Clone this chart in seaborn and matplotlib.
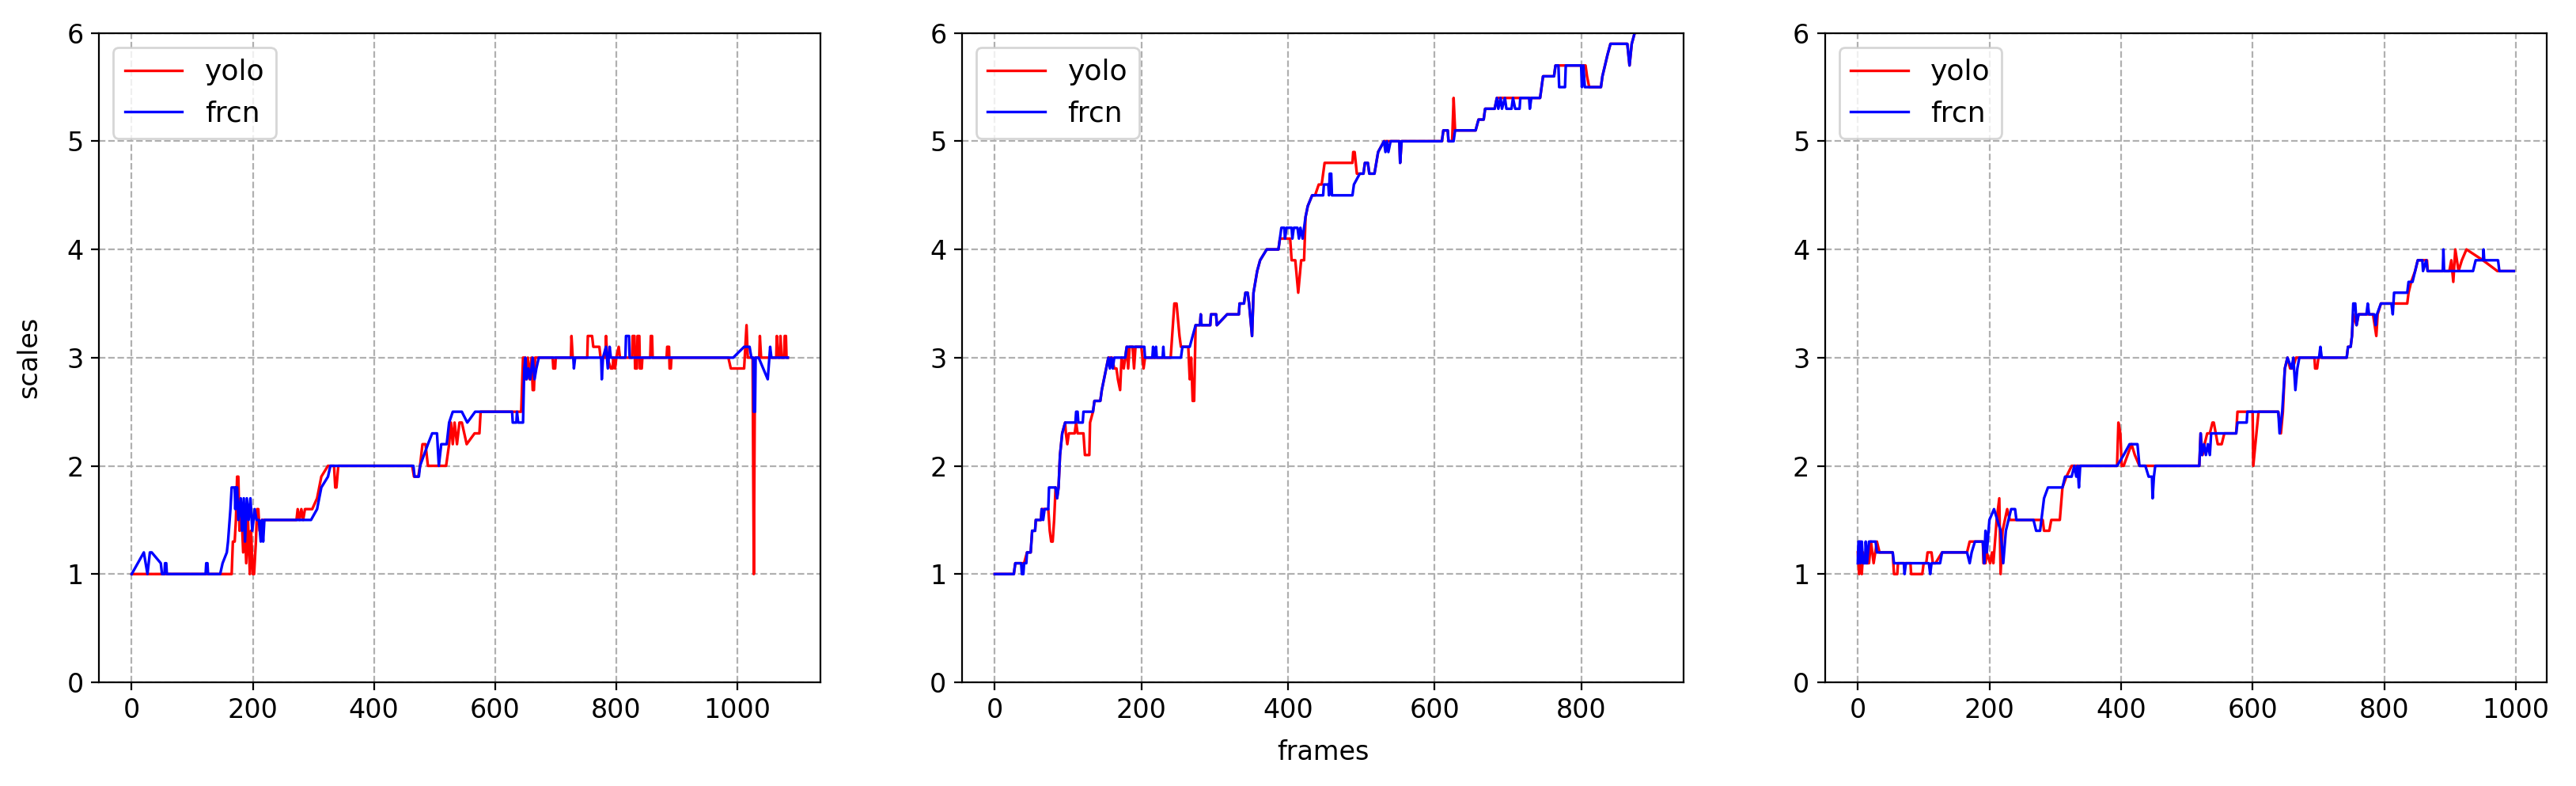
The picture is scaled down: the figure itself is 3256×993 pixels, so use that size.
import matplotlib
matplotlib.use("Agg")
import matplotlib.pyplot as plt
import pandas as pd
import seaborn as sns

# clip 1: frame / scale breakpoints
yolo1_frames = [0, 165, 167, 170, 172, 174, 176, 178, 181, 184, 186, 189, 192, 195, 197, 200, 202, 205, 207, 209,
                211, 215, 272, 274, 277, 280, 283, 286, 298, 306, 313, 324, 334, 336, 338, 341, 463, 466, 473, 476,
                480, 485, 489, 519, 524, 527, 530, 533, 537, 541, 545, 553, 566, 574, 576, 643, 646, 649, 651, 654,
                657, 660, 662, 664, 666, 695, 696, 699, 700, 725, 726, 728, 752, 753, 760, 762, 772, 774, 782, 783,
                785, 791, 794, 795, 798, 800, 804, 806, 826, 827, 830, 831, 834, 835, 838, 839, 842, 843, 856, 857,
                859, 860, 883, 884, 887, 888, 890, 891, 985, 989, 1011, 1015, 1017, 1025, 1027, 1029, 1036, 1037, 1039, 1064,
                1065, 1067, 1070, 1071, 1073, 1077, 1078, 1080, 1081, 1083]
yolo1_scales = [1.0, 1.0, 1.3, 1.3, 1.5, 1.9, 1.9, 1.4, 1.6, 1.2, 1.6, 1.1, 1.5, 1.0, 1.4, 1.0, 1.0, 1.3, 1.6, 1.6,
                1.4, 1.5, 1.5, 1.6, 1.5, 1.6, 1.5, 1.6, 1.6, 1.7, 1.9, 2.0, 2.0, 1.8, 1.8, 2.0, 2.0, 1.9, 1.9, 2.0,
                2.2, 2.2, 2.0, 2.0, 2.2, 2.4, 2.2, 2.4, 2.2, 2.4, 2.4, 2.2, 2.3, 2.3, 2.5, 2.5, 3.0, 3.0, 2.8, 3.0,
                2.8, 3.0, 2.7, 2.7, 3.0, 3.0, 2.9, 2.9, 3.0, 3.0, 3.2, 3.0, 3.0, 3.2, 3.2, 3.1, 3.1, 3.0, 3.0, 3.2,
                3.0, 2.9, 2.9, 3.0, 2.9, 3.0, 3.1, 3.0, 3.0, 3.2, 3.2, 2.9, 2.9, 3.2, 3.2, 2.9, 2.9, 3.0, 3.0, 3.2,
                3.2, 3.0, 3.0, 3.1, 3.1, 2.9, 2.9, 3.0, 3.0, 2.9, 2.9, 3.3, 3.0, 3.0, 1.0, 3.0, 3.0, 3.2, 3.0, 3.0,
                3.2, 3.0, 3.0, 3.2, 3.0, 3.0, 3.2, 3.2, 3.0, 3.0]
frcn1_frames = [0, 20, 26, 30, 33, 48, 50, 54, 55, 57, 58, 122, 123, 125, 126, 146, 150, 157, 159, 163,
                165, 170, 171, 172, 174, 176, 180, 182, 185, 187, 190, 193, 196, 199, 203, 206, 210, 213, 215, 217,
                219, 296, 306, 313, 324, 328, 465, 467, 474, 476, 489, 496, 504, 507, 511, 520, 524, 530, 545, 554,
                567, 628, 629, 635, 636, 638, 646, 648, 650, 652, 655, 658, 662, 665, 668, 672, 729, 730, 732, 775,
                776, 778, 783, 786, 789, 791, 815, 816, 821, 822, 993, 1011, 1020, 1023, 1026, 1027, 1029, 1030, 1035, 1050,
                1054, 1056, 1083]
frcn1_scales = [1.0, 1.2, 1.0, 1.2, 1.2, 1.1, 1.0, 1.0, 1.1, 1.1, 1.0, 1.0, 1.1, 1.1, 1.0, 1.0, 1.1, 1.2, 1.3, 1.6,
                1.8, 1.8, 1.6, 1.8, 1.8, 1.5, 1.7, 1.4, 1.7, 1.3, 1.7, 1.5, 1.7, 1.4, 1.6, 1.5, 1.5, 1.3, 1.5, 1.3,
                1.5, 1.5, 1.6, 1.8, 1.9, 2.0, 2.0, 1.9, 1.9, 2.0, 2.2, 2.3, 2.3, 2.0, 2.2, 2.2, 2.4, 2.5, 2.5, 2.4,
                2.5, 2.5, 2.4, 2.4, 2.5, 2.4, 2.4, 2.9, 3.0, 2.8, 2.9, 2.8, 3.0, 2.8, 2.9, 3.0, 3.0, 2.9, 3.0, 3.0,
                2.8, 3.0, 3.1, 2.9, 3.1, 3.0, 3.0, 3.2, 3.2, 3.0, 3.0, 3.1, 3.1, 3.0, 3.0, 2.5, 2.5, 3.0, 3.0, 2.8,
                3.1, 3.0, 3.0]

# clip 2
yolo2_frames = [0, 26, 28, 36, 40, 44, 49, 51, 55, 56, 63, 64, 73, 75, 77, 79, 81, 83, 85, 87,
                89, 92, 96, 97, 99, 101, 109, 111, 113, 121, 123, 129, 130, 134, 136, 144, 146, 152, 155, 160,
                163, 166, 168, 171, 173, 176, 178, 180, 182, 184, 188, 190, 192, 200, 203, 205, 240, 245, 248, 252,
                254, 264, 266, 268, 270, 272, 274, 280, 281, 282, 294, 295, 302, 303, 317, 333, 334, 340, 342, 345,
                347, 351, 353, 358, 362, 371, 387, 389, 403, 405, 410, 414, 418, 422, 424, 427, 433, 437, 442, 446,
                450, 488, 489, 491, 494, 503, 505, 509, 511, 518, 523, 531, 540, 552, 553, 555, 610, 612, 618, 619,
                624, 626, 628, 656, 660, 667, 669, 682, 685, 744, 748, 763, 765, 806, 808, 811, 827, 829, 836, 840,
                863, 866, 869, 873, 895]
yolo2_scales = [1.0, 1.0, 1.1, 1.1, 1.1, 1.2, 1.2, 1.4, 1.4, 1.5, 1.5, 1.6, 1.6, 1.4, 1.3, 1.3, 1.5, 1.8, 1.7, 1.8,
                2.1, 2.3, 2.4, 2.3, 2.2, 2.3, 2.3, 2.4, 2.3, 2.3, 2.1, 2.1, 2.4, 2.5, 2.6, 2.6, 2.7, 2.9, 3.0, 3.0,
                2.9, 2.9, 2.8, 2.7, 3.0, 2.9, 3.0, 3.1, 2.9, 3.1, 3.1, 2.9, 3.1, 3.1, 2.9, 3.0, 3.0, 3.5, 3.5, 3.2,
                3.1, 3.1, 2.8, 3.0, 2.6, 2.6, 3.3, 3.3, 3.4, 3.3, 3.3, 3.4, 3.4, 3.3, 3.4, 3.4, 3.5, 3.5, 3.6, 3.6,
                3.5, 3.2, 3.6, 3.8, 3.9, 4.0, 4.0, 4.1, 4.1, 3.9, 3.9, 3.6, 3.9, 3.9, 4.3, 4.4, 4.5, 4.5, 4.6, 4.6,
                4.8, 4.8, 4.9, 4.9, 4.7, 4.7, 4.8, 4.8, 4.7, 4.7, 4.9, 5.0, 5.0, 5.0, 4.8, 5.0, 5.0, 5.1, 5.1, 5.0,
                5.0, 5.4, 5.1, 5.1, 5.2, 5.2, 5.3, 5.3, 5.4, 5.4, 5.6, 5.6, 5.7, 5.7, 5.6, 5.5, 5.5, 5.6, 5.8, 5.9,
                5.9, 5.7, 5.9, 6.0, 6.1]
frcn2_frames = [0, 26, 28, 36, 37, 39, 40, 43, 44, 49, 51, 55, 56, 63, 64, 66, 68, 73, 74, 83,
                85, 87, 89, 92, 96, 110, 111, 113, 114, 120, 121, 134, 136, 144, 146, 152, 155, 157, 159, 161,
                163, 178, 180, 204, 205, 215, 216, 217, 219, 220, 221, 229, 230, 231, 254, 256, 266, 270, 274, 280,
                281, 282, 294, 295, 302, 303, 317, 333, 334, 340, 342, 345, 347, 351, 353, 358, 362, 371, 387, 389,
                391, 395, 396, 398, 405, 406, 408, 413, 415, 417, 420, 422, 424, 427, 433, 448, 449, 455, 456, 457,
                459, 460, 488, 490, 498, 503, 505, 509, 511, 518, 523, 531, 533, 535, 537, 540, 552, 553, 555, 610,
                612, 618, 619, 626, 628, 656, 660, 667, 669, 682, 685, 687, 690, 692, 696, 698, 705, 707, 710, 716,
                717, 729, 730, 732, 744, 748, 763, 765, 769, 770, 778, 779, 800, 801, 803, 805, 827, 829, 836, 840,
                863, 866, 869, 873, 895]
frcn2_scales = [1.0, 1.0, 1.1, 1.1, 1.0, 1.0, 1.1, 1.1, 1.2, 1.2, 1.4, 1.4, 1.5, 1.5, 1.6, 1.5, 1.6, 1.6, 1.8, 1.8,
                1.7, 1.8, 2.1, 2.3, 2.4, 2.4, 2.5, 2.5, 2.4, 2.4, 2.5, 2.5, 2.6, 2.6, 2.7, 2.9, 3.0, 2.9, 3.0, 2.9,
                3.0, 3.0, 3.1, 3.1, 3.0, 3.0, 3.1, 3.0, 3.0, 3.1, 3.0, 3.0, 3.1, 3.0, 3.0, 3.1, 3.1, 3.2, 3.3, 3.3,
                3.4, 3.3, 3.3, 3.4, 3.4, 3.3, 3.4, 3.4, 3.5, 3.5, 3.6, 3.6, 3.5, 3.2, 3.6, 3.8, 3.9, 4.0, 4.0, 4.1,
                4.2, 4.2, 4.1, 4.2, 4.2, 4.1, 4.2, 4.2, 4.1, 4.2, 4.1, 4.2, 4.3, 4.4, 4.5, 4.5, 4.6, 4.6, 4.5, 4.7,
                4.7, 4.5, 4.5, 4.6, 4.7, 4.7, 4.8, 4.8, 4.7, 4.7, 4.9, 5.0, 4.9, 5.0, 4.9, 5.0, 5.0, 4.8, 5.0, 5.0,
                5.1, 5.1, 5.0, 5.0, 5.1, 5.1, 5.2, 5.2, 5.3, 5.3, 5.4, 5.3, 5.4, 5.3, 5.4, 5.3, 5.3, 5.4, 5.3, 5.3,
                5.4, 5.4, 5.3, 5.4, 5.4, 5.6, 5.6, 5.7, 5.7, 5.5, 5.5, 5.7, 5.7, 5.5, 5.7, 5.5, 5.5, 5.6, 5.8, 5.9,
                5.9, 5.7, 5.9, 6.0, 6.1]

# clip 3
yolo3_frames = [0, 2, 4, 6, 8, 12, 17, 20, 24, 29, 33, 53, 55, 60, 61, 80, 81, 98, 100, 104,
                106, 112, 114, 118, 128, 166, 170, 190, 191, 194, 196, 201, 204, 206, 211, 215, 217, 220, 227, 231,
                281, 283, 291, 294, 307, 311, 317, 325, 394, 396, 399, 401, 404, 410, 416, 421, 428, 519, 521, 524,
                527, 531, 535, 539, 541, 547, 553, 557, 575, 577, 600, 601, 609, 639, 643, 646, 649, 653, 657, 661,
                666, 694, 695, 698, 700, 743, 745, 749, 751, 753, 758, 761, 783, 788, 790, 795, 835, 837, 841, 847,
                851, 865, 866, 899, 902, 905, 908, 913, 918, 925, 950, 972, 997]
yolo3_scales = [1.2, 1.0, 1.3, 1.0, 1.2, 1.1, 1.1, 1.3, 1.1, 1.3, 1.2, 1.2, 1.0, 1.0, 1.1, 1.1, 1.0, 1.0, 1.1, 1.1,
                1.2, 1.2, 1.1, 1.1, 1.2, 1.2, 1.3, 1.3, 1.1, 1.1, 1.2, 1.1, 1.2, 1.1, 1.5, 1.7, 1.0, 1.4, 1.6, 1.5,
                1.5, 1.4, 1.4, 1.5, 1.5, 1.8, 1.9, 2.0, 2.0, 2.4, 2.3, 2.0, 2.0, 2.1, 2.2, 2.1, 2.0, 2.0, 2.3, 2.1,
                2.2, 2.3, 2.3, 2.4, 2.4, 2.2, 2.2, 2.3, 2.3, 2.5, 2.5, 2.0, 2.5, 2.5, 2.3, 2.5, 2.9, 3.0, 2.9, 2.9,
                3.0, 3.0, 2.9, 2.9, 3.0, 3.0, 3.1, 3.1, 3.2, 3.4, 3.3, 3.4, 3.4, 3.2, 3.4, 3.5, 3.5, 3.6, 3.7, 3.8,
                3.9, 3.9, 3.8, 3.8, 3.9, 3.7, 4.0, 3.8, 3.9, 4.0, 3.9, 3.8, 3.8]
frcn3_frames = [0, 1, 3, 4, 6, 8, 11, 12, 14, 17, 27, 29, 53, 55, 70, 71, 73, 108, 110, 112,
                125, 128, 166, 170, 173, 178, 190, 192, 194, 196, 200, 207, 212, 217, 221, 225, 229, 233, 239, 241,
                267, 271, 277, 283, 289, 311, 315, 325, 329, 332, 334, 336, 338, 394, 404, 413, 425, 428, 437, 442,
                447, 448, 450, 452, 519, 521, 523, 526, 529, 532, 535, 537, 575, 577, 591, 592, 639, 641, 645, 649,
                653, 659, 662, 665, 668, 671, 701, 703, 705, 743, 745, 749, 751, 753, 756, 758, 761, 773, 775, 777,
                785, 787, 789, 795, 811, 813, 815, 835, 837, 843, 847, 851, 858, 859, 864, 866, 889, 890, 891, 935,
                939, 950, 951, 952, 973, 975, 997]
frcn3_scales = [1.1, 1.3, 1.3, 1.1, 1.3, 1.1, 1.1, 1.3, 1.1, 1.3, 1.3, 1.2, 1.2, 1.1, 1.1, 1.0, 1.1, 1.1, 1.0, 1.1,
                1.1, 1.2, 1.2, 1.1, 1.2, 1.3, 1.3, 1.1, 1.4, 1.2, 1.5, 1.6, 1.5, 1.4, 1.1, 1.4, 1.5, 1.6, 1.6, 1.5,
                1.5, 1.4, 1.4, 1.7, 1.8, 1.8, 1.9, 1.9, 2.0, 1.9, 2.0, 1.8, 2.0, 2.0, 2.1, 2.2, 2.2, 2.0, 2.0, 1.9,
                1.9, 1.7, 1.9, 2.0, 2.0, 2.3, 2.1, 2.2, 2.1, 2.2, 2.1, 2.3, 2.3, 2.4, 2.4, 2.5, 2.5, 2.3, 2.5, 2.9,
                3.0, 2.9, 3.0, 2.7, 2.9, 3.0, 3.0, 3.1, 3.0, 3.0, 3.1, 3.1, 3.2, 3.5, 3.5, 3.3, 3.4, 3.4, 3.5, 3.4,
                3.4, 3.3, 3.4, 3.5, 3.5, 3.4, 3.6, 3.6, 3.7, 3.7, 3.8, 3.9, 3.9, 3.8, 3.9, 3.8, 3.8, 4.0, 3.8, 3.8,
                3.9, 3.9, 4.0, 3.9, 3.9, 3.8, 3.8]

clips = [
    (yolo1_frames, yolo1_scales, frcn1_frames, frcn1_scales),
    (yolo2_frames, yolo2_scales, frcn2_frames, frcn2_scales),
    (yolo3_frames, yolo3_scales, frcn3_frames, frcn3_scales),
]

plt.rcParams["font.size"] = 12

fig, axes = plt.subplots(1, 3, figsize=(16.28, 4.965), dpi=200)
fig.subplots_adjust(left=0.0384, right=0.9886, bottom=0.132, top=0.958, wspace=0.196)

for ax, (yf, ys, ff, fs) in zip(axes, clips):
    yolo = pd.DataFrame({"frames": yf, "scales": ys})
    frcn = pd.DataFrame({"frames": ff, "scales": fs})
    sns.lineplot(data=yolo, x="frames", y="scales", ax=ax, color="red", lw=1.2,
                 sort=False, estimator=None, label="yolo")
    sns.lineplot(data=frcn, x="frames", y="scales", ax=ax, color="blue", lw=1.2,
                 sort=False, estimator=None, label="frcn")
    ax.set_ylim(0, 6)
    ax.grid(True, linestyle="--")
    ax.legend(loc="upper left", fontsize=13)
    ax.set_xlabel("")
    ax.set_ylabel("")

axes[0].set_ylabel("scales", labelpad=11)
axes[1].set_xlabel("frames", labelpad=7)

fig.savefig("out.png")
